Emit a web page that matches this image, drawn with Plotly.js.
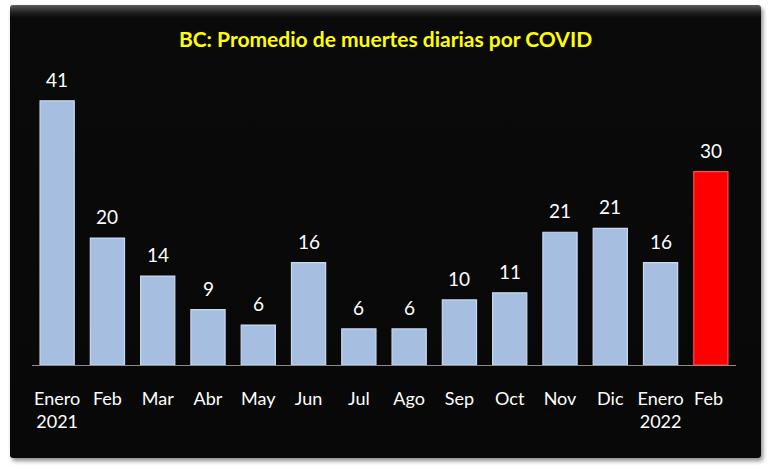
<!DOCTYPE html>
<html>
<head>
<meta charset="utf-8">
<script src="https://cdn.plot.ly/plotly-3.0.1.min.js"></script>
<style>
  html, body { margin:0; padding:0; background:#ffffff; width:770px; height:472px; overflow:hidden; }
  #chart {
    position:absolute; left:10px; top:5px; width:751px; height:453px;
    background: linear-gradient(to bottom, #5a5a5a 0px, #1e1e1e 8px, #0a0a0a 13px, #080808 100%);
    border-radius:3px;
    box-shadow: 2px 3px 4px rgba(0,0,0,0.45);
  }
</style>
</head>
<body>
<div id="chart"></div>
<script>
const categories = ['Enero<br>2021','Feb','Mar','Abr','May','Jun','Jul','Ago','Sep','Oct','Nov','Dic','Enero<br>2022','Feb '];
const values = [41, 19.7, 13.8, 8.6, 6.2, 15.9, 5.6, 5.6, 10.1, 11.2, 20.6, 21.2, 15.9, 30];
const valueLabels = ['41','20','14','9','6','16','6','6','10','11','21','21','16','30'];
const barColors = ['#a6bfe1','#a6bfe1','#a6bfe1','#a6bfe1','#a6bfe1','#a6bfe1','#a6bfe1','#a6bfe1','#a6bfe1','#a6bfe1','#a6bfe1','#a6bfe1','#a6bfe1','#ff0000'];
const lineColors = ['#c9d9ef','#c9d9ef','#c9d9ef','#c9d9ef','#c9d9ef','#c9d9ef','#c9d9ef','#c9d9ef','#c9d9ef','#c9d9ef','#c9d9ef','#c9d9ef','#c9d9ef','#ff4a4a'];
const titleText = 'BC: Promedio de muertes diarias por COVID';

const trace = {
  type:'bar',
  x: categories,
  y: values,
  marker: { color: barColors, line: { color: lineColors, width: 1.2 } },
  hoverinfo: 'skip'
};

const annotations = categories.map((c, i) => ({
  x: c, y: values[i], xref:'x', yref:'y',
  text: valueLabels[i], showarrow:false,
  yanchor:'bottom', yshift: 8,
  font: { family:'Lato, sans-serif', size:19, color:'#ffffff' }
}));

const layout = {
  width: 751, height: 453,
  paper_bgcolor:'rgba(0,0,0,0)',
  plot_bgcolor:'rgba(0,0,0,0)',
  margin: { l:22, r:25, t:70, b:93, pad:0 },
  bargap: 0.32,
  showlegend:false,
  title: {
    text: '<b>' + titleText + '</b>',
    font: { family:'Lato, sans-serif', size:21, color:'#ffff00' },
    xref:'container', x:0.5, xanchor:'center',
    yref:'container', y:1 - 35/453, yanchor:'middle'
  },
  xaxis: {
    type:'category',
    range:[-0.5, 13.5],
    showline:true, linecolor:'#8c8c8c', linewidth:1,
    showgrid:false, zeroline:false,
    ticks:'', ticklabelstandoff: 17,
    tickfont: { family:'Lato, sans-serif', size:18, color:'#ffffff' },
    fixedrange:true
  },
  yaxis: {
    range:[0, 45],
    visible:false,
    showgrid:false, zeroline:false,
    fixedrange:true
  },
  annotations: annotations
};

Plotly.newPlot('chart', [trace], layout, { displayModeBar:false, staticPlot:true });
</script>
</body>
</html>
